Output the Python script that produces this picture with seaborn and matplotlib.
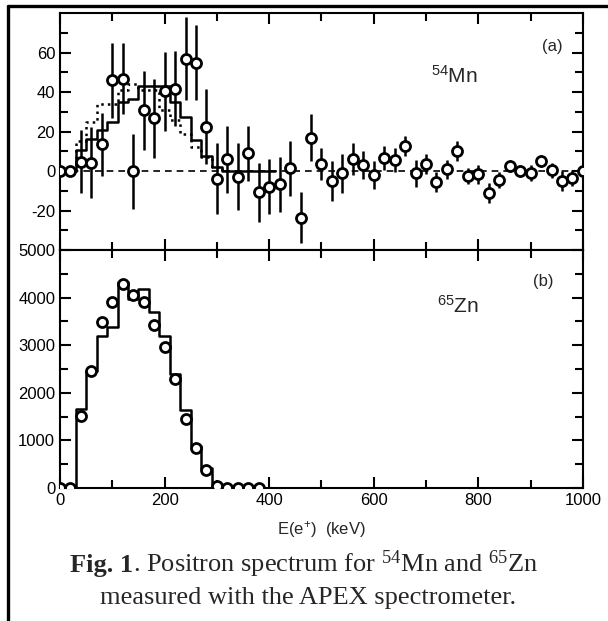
import numpy as np
import pandas as pd
import matplotlib
matplotlib.use("Agg")
import matplotlib.pyplot as plt
import seaborn as sns

# 54Mn positron spectrum (panel a), points every 20 keV
mn_energy = list(range(0, 1001, 20))
mn_counts = [0, 0, 4.7, 4.2, 13.6, 46, 46.7, 0, 30.8, 26.6,
             40.5, 41.7, 56.8, 54.8, 22.4, -4, 6, -2.9, 8.9, -10.8,
             -7.9, -6.7, 1.3, -23.6, 16.9, 3.7, -5, -1.2, 6.2, 2.9,
             -2, 6.7, 5.6, 12.6, -1.2, 3.7, -5.6, 0.8, 10.1, -2.5,
             -1.7, -11, -4.7, 2.5, 0, -0.8, 5, 0.3, -5, -3.7, 0]
mn_err = [0, 0, 16, 18, 16, 19, 18, 19, 20, 20,
          20, 19, 21, 19, 19, 18, 17, 17, 14, 15,
          14, 14, 14, 13, 12, 8, 10, 10, 8, 7,
          7, 6, 6, 5, 7, 5, 5, 5, 5, 4,
          5, 5, 4, 3, 3, 4, 3, 4, 5, 4, 3]

# simulated 54Mn spectra (histograms, 20 keV bins)
mn_sim_centers = list(range(40, 401, 20))
mn_sim_solid = [10.6, 16, 21, 25, 35, 36.5, 43, 43, 43, 35,
                27.5, 15.7, 7.6, 2, 0, 0, 0, 0, 0]
mn_sim_dotted_centers = list(range(40, 301, 20))
mn_sim_dotted = [15, 25, 34, 34, 41, 44, 41, 41, 31, 26, 19, 12, 7, 2]

# 65Zn spectrum (panel b)
zn_energy = list(range(0, 381, 20))
zn_counts = [0, 0, 1514, 2465, 3486, 3908, 4296, 4050, 3908, 3430,
             2958, 2289, 1444, 831, 373, 50, 0, 0, 0, 0]
zn_sim_centers = list(range(40, 281, 20))
zn_sim = [1650, 2460, 3200, 3380, 4330, 3980, 4190, 3700, 3200, 2400,
          1640, 880, 420]

sns.set_style("ticks")
plt.rcParams['font.family'] = ['Liberation Sans', 'DejaVu Sans']
plt.rcParams['axes.unicode_minus'] = False
plt.rcParams['mathtext.default'] = 'regular'

fig = plt.figure(figsize=(6.08, 6.21), dpi=100)
ax1 = fig.add_axes([0.0987, 0.5974, 0.860, 0.3816])
ax2 = fig.add_axes([0.0987, 0.2142, 0.860, 0.3832])


def style_axis(ax):
    for s in ax.spines.values():
        s.set_linewidth(1.5)
        s.set_color('black')
    ax.tick_params(which='both', direction='in', top=True, right=True,
                   width=1.5, colors='black', labelsize=12)
    ax.tick_params(which='major', length=8)
    ax.tick_params(which='minor', length=6)
    ax.set_xlim(0, 1000)
    ax.set_xticks(range(0, 1001, 200))
    ax.set_xticks(range(100, 1000, 200), minor=True)


def draw_hist(ax, centers, values, ls):
    # one narrow empty bin on each side so the outline drops to zero
    edges = [centers[0] - 11] + [c - 10 for c in centers] + [centers[-1] + 10, centers[-1] + 11]
    xs = [centers[0] - 10.5] + list(centers) + [centers[-1] + 10.5]
    ws = [0] + list(values) + [0]
    hist_df = pd.DataFrame({'energy': xs, 'counts': ws})
    sns.histplot(data=hist_df, x='energy', weights='counts', bins=edges,
                 element='step', fill=False, color='black', linewidth=1.8,
                 linestyle=ls, ax=ax)


def draw_points(ax, x, y, yerr=None):
    if yerr is not None:
        ax.errorbar(x, y, yerr=yerr, fmt='none', ecolor='black',
                    elinewidth=1.8, capsize=0, zorder=3)
    pts = pd.DataFrame({'energy': x, 'counts': y})
    sns.scatterplot(data=pts, x='energy', y='counts', ax=ax, s=52, marker='o',
                    facecolor='white', edgecolor='black', linewidth=2.0, zorder=4)


# panel (a)
style_axis(ax1)
ax1.axhline(0, color='black', ls=(0, (4, 3)), lw=1.2, zorder=1)
draw_hist(ax1, mn_sim_dotted_centers, mn_sim_dotted, ':')
draw_hist(ax1, mn_sim_centers, mn_sim_solid, '-')
draw_points(ax1, mn_energy, mn_counts, mn_err)
ax1.set_ylim(-40, 80)
ax1.set_yticks([-20, 0, 20, 40, 60])
ax1.set_yticks(range(-30, 80, 20), minor=True)
ax1.set_xticklabels([])
ax1.set_xlabel('')
ax1.set_ylabel('')
ax1.text(941, 63, '(a)', ha='center', va='center', fontsize=12)
ax1.text(754, 48, '$^{54}$Mn', ha='center', va='center', fontsize=15)

# panel (b)
style_axis(ax2)
draw_hist(ax2, zn_sim_centers, zn_sim, '-')
draw_points(ax2, zn_energy, zn_counts)
ax2.set_ylim(0, 5000)
ax2.set_yticks(range(0, 5001, 1000))
ax2.set_yticks(range(500, 5000, 1000), minor=True)
ax2.set_ylabel('')
ax2.set_xlabel('E(e$^{+}$)  (keV)', fontsize=12, labelpad=8)
ax2.text(924, 4330, '(b)', ha='center', va='center', fontsize=12)
ax2.text(762, 3830, '$^{65}$Zn', ha='center', va='center', fontsize=15)

# frame lines of the scanned page
fig.add_artist(plt.Line2D([0.0135, 0.0135], [0.0, 0.9905], transform=fig.transFigure,
                          color='black', lw=2.4))
fig.add_artist(plt.Line2D([0.0135, 1.0], [0.9905, 0.9905], transform=fig.transFigure,
                          color='black', lw=2.4))

# caption: bold "Fig. 1" followed by regular text on the same baseline
cap_font = dict(fontsize=19, family='Liberation Serif')
cap_y = 1 - 572 / 621
t1 = fig.text(70 / 608, cap_y, 'Fig. 1', weight='bold',
              ha='left', va='baseline', **cap_font)
fig.add_artist(matplotlib.text.Annotation(
    '. Positron spectrum for $^{54}$Mn and $^{65}$Zn', xy=(1, cap_y),
    xycoords=(t1, 'figure fraction'), ha='left', va='baseline', **cap_font))
fig.text(0.507, 1 - 598 / 621, 'measured with the APEX spectrometer.',
         ha='center', va='center', **cap_font)

fig.savefig('out.png', dpi=100)
